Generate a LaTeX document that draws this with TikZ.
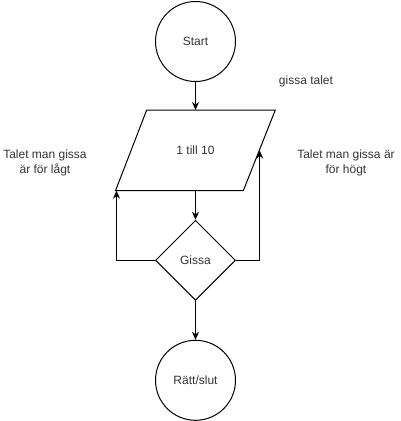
\documentclass[tikz,border=0pt]{standalone}
\usepackage{fontspec}
\setmainfont{Liberation Sans}
\usetikzlibrary{shapes.geometric,arrows.meta}
\definecolor{txt}{RGB}{51,51,51}
\tikzset{
  every node/.style={font=\fontsize{12}{15}\selectfont, text=txt},
  shp/.style={draw=black, line width=1pt},
  term/.style={shp, circle, minimum size=80pt, inner sep=0pt},
  dec/.style={shp, diamond, minimum width=80pt, minimum height=80pt, inner sep=0pt, aspect=1},
  conn/.style={draw=black, line width=1pt, -{Stealth[length=8pt,width=7pt,inset=2.5pt]}},
  lbl/.style={align=center, inner sep=0pt},
}
\begin{document}
\begin{tikzpicture}[x=1pt,y=-1pt]
\useasboundingbox (0,0) rectangle (401,421);
\node[term] (start) at (195.5,41.5) {Start};
% parallelogram
\coordinate (p1) at (146.7,110);
\coordinate (p2) at (275.3,110);
\coordinate (p3) at (243.3,190.7);
\coordinate (p4) at (115.5,190.7);
\draw[shp, line join=miter] (p1) -- (p2) -- (p3) -- (p4) -- cycle;
\coordinate (ptop) at (195.5,110);
\coordinate (pbot) at (195.5,190.7);
\coordinate (pright) at (259.7,150.5);
\coordinate (pleft) at (116.5,190.7);
\node (io) at (195.5,150.7) {1 till 10};
\node[dec] (gissa) at (195.5,260.3) {Gissa};
\node[term] (end) at (195.5,380.3) {Rätt/slut};
\node[lbl] (l1) at (306,81.7) {gissa talet};
\node[lbl] (l2) at (45,162.5) {Talet man gissa\\är för lågt};
\node[lbl] (l3) at (346,162.5) {Talet man gissa är\\för högt};
\draw[conn] (start) -- (ptop);
\draw[conn] (pbot) -- (gissa.north);
\draw[conn] (gissa.south) -- (end.north);
\draw[conn] (gissa.west) -| (pleft);
\draw[conn] (gissa.east) -| (pright);
\end{tikzpicture}
\end{document}
